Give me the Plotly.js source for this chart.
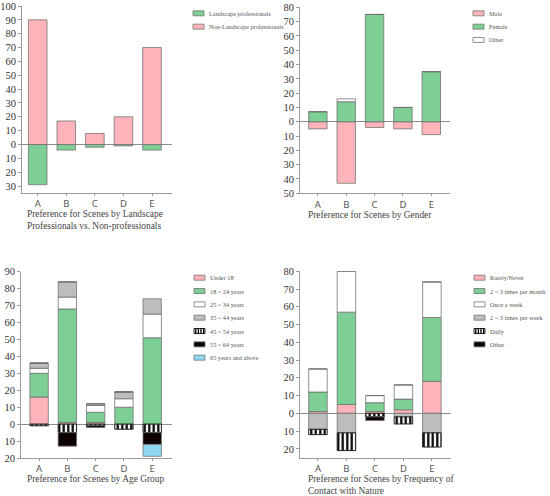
<!DOCTYPE html>
<html>
<head>
<meta charset="utf-8">
<script src="https://cdn.plot.ly/plotly-3.0.1.min.js"></script>
<style>html,body{margin:0;padding:0;background:#fff;}#chart{width:550px;height:496px;}</style>
</head>
<body>
<div id="chart"></div>
<script>
// ---------------- DATA ----------------
const scenes = ['A', 'B', 'C', 'D', 'E'];

// Panel 1: professionals (drawn below zero) vs non-professionals (above zero)
const landscapePros = [29, 4, 2, 1, 4];
const nonLandscapePros = [90, 17, 8, 20, 70];
const p1Ticks = [-30, -20, -10, 0, 10, 20, 30, 40, 50, 60, 70, 80, 90, 100];
const p1TickText = ['30', '20', '10', '0', '10', '20', '30', '40', '50', '60', '70', '80', '90', '100'];

// Panel 2: gender (male below zero)
const male = [5, 43, 4, 5, 9];
const female = [7, 14, 75, 10, 35];
const otherGender = [0, 2, 0, 0, 0];
const p2Ticks = [-50, -40, -30, -20, -10, 0, 10, 20, 30, 40, 50, 60, 70, 80];
const p2TickText = ['50', '40', '30', '20', '10', '0', '10', '20', '30', '40', '50', '60', '70', '80'];

// Panel 3: age groups (45+ below zero)
const under18 = [16, 1, 1, 0, 0];
const age18to24 = [14, 67, 6, 10, 51];
const age25to34 = [3, 7, 4, 5, 14];
const age35to44 = [3, 9, 1, 4, 9];
const age45to54 = [1, 5, 1, 3, 5];
const age55to64 = [0, 8, 1, 0, 7];
const age65plus = [0, 0, 0, 0, 7];
const p3Ticks = [-20, -10, 0, 10, 20, 30, 40, 50, 60, 70, 80, 90];
const p3TickText = ['20', '10', '0', '10', '20', '30', '40', '50', '60', '70', '80', '90'];

// Panel 4: frequency of contact with nature (weekly+ below zero)
const rarelyNever = [1, 5, 1, 2, 18];
const perMonth = [11, 52, 5, 6, 36];
const onceWeek = [13, 23, 4, 8, 20];
const perWeek = [9, 11, 0, 2, 11];
const daily = [3, 10, 2, 4, 8];
const otherFreq = [0, 0, 2, 0, 0];
const p4Ticks = [-20, -10, 0, 10, 20, 30, 40, 50, 60, 70, 80];
const p4TickText = ['20', '10', '0', '10', '20', '30', '40', '50', '60', '70', '80'];

const titles = [
  'Preference for Scenes by Landscape<br>Professionals vs. Non-professionals',
  'Preference for Scenes by Gender',
  'Preference for Scenes by Age Group',
  'Preference for Scenes by Frequency of<br>Contact with Nature'
];

// ---------------- STYLE ----------------
const GREEN = '#7dcf96', PINK = '#ffb3ba', WHITE = '#ffffff', GRAY = '#bdbdbd',
      BLACK = '#0d0303', BLUE = '#8ed8f2';
const OUTLINE = 'rgba(110,110,110,0.75)';
const HATCH = {shape: '|', fgcolor: '#000000', bgcolor: '#ffffff', size: 4.5, solidity: 0.5, fillmode: 'replace'};
const SERIF = 'Liberation Serif, Times New Roman, serif';
const SANS = 'Noto Sans, Open Sans, sans-serif';

const neg = a => a.map(v => -v);

function bar(name, y, color, ax, opts) {
  const t = {
    type: 'bar', name: name, x: scenes, y: y, xaxis: 'x' + ax, yaxis: 'y' + ax,
    marker: {color: color, line: {color: OUTLINE, width: 1}}, showlegend: false,
    hovertemplate: name + ' %{x}: %{y}<extra></extra>'
  };
  if (opts && opts.hatch) {
    t.marker.pattern = HATCH;
    t.marker.line = {color: '#222', width: 1};
  }
  return t;
}

const data = [
  bar('Landscape professionals', neg(landscapePros), GREEN, ''),
  bar('Non-Landscape professionals', nonLandscapePros, PINK, ''),

  bar('Male', neg(male), PINK, '2'),
  bar('Female', female, GREEN, '2'),
  bar('Other', otherGender, WHITE, '2'),

  bar('Under 18', under18, PINK, '3'),
  bar('18 ~ 24 years', age18to24, GREEN, '3'),
  bar('25 ~ 34 years', age25to34, WHITE, '3'),
  bar('35 ~ 44 years', age35to44, GRAY, '3'),
  bar('45 ~ 54 years', neg(age45to54), WHITE, '3', {hatch: true}),
  bar('55 ~ 64 years', neg(age55to64), BLACK, '3'),
  bar('65 years and above', neg(age65plus), BLUE, '3'),

  bar('Rarely/Never', rarelyNever, PINK, '4'),
  bar('2 ~ 3 times per month', perMonth, GREEN, '4'),
  bar('Once a week', onceWeek, WHITE, '4'),
  bar('2 ~ 3 times per week', neg(perWeek), GRAY, '4'),
  bar('Daily', neg(daily), WHITE, '4', {hatch: true}),
  bar('Other', neg(otherFreq), BLACK, '4')
];

// ---------------- LAYOUT ----------------
const W = 550, H = 496;
const fx = x => x / W;
const fy = y => 1 - y / H;

function yax(top, bottom, range, tv, tt, anchor) {
  return {
    domain: [fy(bottom), fy(top)], range: range, tickvals: tv, ticktext: tt, anchor: anchor,
    showline: true, linecolor: '#9a9a9a', linewidth: 1, ticks: 'outside', ticklen: 3,
    tickcolor: '#9a9a9a', showgrid: false, zeroline: true, zerolinecolor: '#8c8c8c',
    zerolinewidth: 1, tickfont: {family: SERIF, size: 10.5, color: '#333'}, fixedrange: true
  };
}
function xax(left, right, anchor, range) {
  return {
    domain: [fx(left), fx(right)], type: 'category', range: range, anchor: anchor,
    showline: true, linecolor: '#9a9a9a', linewidth: 1, ticks: 'outside', ticklen: 2,
    tickcolor: '#9a9a9a', showgrid: false, zeroline: false,
    tickfont: {family: SANS, size: 9.5, color: '#555'}, fixedrange: true
  };
}

const layout = {
  width: W, height: H, margin: {l: 0, r: 0, t: 0, b: 0},
  paper_bgcolor: '#fff', plot_bgcolor: 'rgba(0,0,0,0)',
  barmode: 'relative', bargap: 0.35, showlegend: false,
  xaxis: xax(22, 172, 'y', [-0.55, 4.7]),
  yaxis: yax(6, 193, [-35, 100], p1Ticks, p1TickText, 'x'),
  xaxis2: xax(300, 450, 'y2', [-0.63, 4.66]),
  yaxis2: yax(7.3, 193.3, [-50, 80], p2Ticks, p2TickText, 'x2'),
  xaxis3: xax(21, 172, 'y3', [-0.64, 4.7]),
  yaxis3: yax(271.7, 458, [-20, 90], p3Ticks, p3TickText, 'x3'),
  xaxis4: xax(300, 451, 'y4', [-0.63, 4.67]),
  yaxis4: yax(271.3, 457.7, [-25, 80], p4Ticks, p4TickText, 'x4'),
  annotations: [], shapes: []
};

// axis titles (left-aligned text beneath each panel)
const titlePos = [[26, 208], [307, 209], [26, 473], [307, 473]];
titles.forEach((t, i) => {
  layout.annotations.push({
    text: t, xref: 'paper', yref: 'paper', x: fx(titlePos[i][0]), y: fy(titlePos[i][1]),
    xanchor: 'left', yanchor: 'top', align: 'left', showarrow: false, borderpad: 0,
    font: {family: SERIF, size: 9.4, color: '#444'}
  });
});

// legends (one per panel)
const legends = [
  {x: 193, y: 13.3, items: [['Landscape professionals', GREEN], ['Non-Landscape professionals', PINK]]},
  {x: 473, y: 13.3, items: [['Male', PINK], ['Female', GREEN], ['Other', WHITE]]},
  {x: 194, y: 277.7, items: [['Under 18', PINK], ['18 ~ 24 years', GREEN], ['25 ~ 34 years', WHITE],
    ['35 ~ 44 years', GRAY], ['45 ~ 54 years', 'hatch'], ['55 ~ 64 years', BLACK], ['65 years and above', BLUE]]},
  {x: 474, y: 277.7, items: [['Rarely/Never', PINK], ['2 ~ 3 times per month', GREEN], ['Once a week', WHITE],
    ['2 ~ 3 times per week', GRAY], ['Daily', 'hatch'], ['Other', BLACK]]}
];
const ROW = 13.33, SW = 11, SH = 5;
legends.forEach(lg => {
  lg.items.forEach((it, k) => {
    const cy = lg.y + k * ROW;
    const hatch = it[1] === 'hatch';
    layout.shapes.push({
      type: 'rect', xref: 'paper', yref: 'paper',
      x0: fx(lg.x), x1: fx(lg.x + SW), y0: fy(cy + SH / 2), y1: fy(cy - SH / 2),
      fillcolor: hatch ? '#fff' : it[1], line: {color: hatch ? '#222' : OUTLINE, width: 1}
    });
    if (hatch) {
      for (let s = 0; s < 4; s++) {
        const sx = lg.x + 1.8 + s * 2.6;
        layout.shapes.push({
          type: 'line', xref: 'paper', yref: 'paper',
          x0: fx(sx), x1: fx(sx), y0: fy(cy + SH / 2), y1: fy(cy - SH / 2),
          line: {color: '#000', width: 1.3}
        });
      }
    }
    layout.annotations.push({
      text: it[0], xref: 'paper', yref: 'paper', x: fx(lg.x + SW + 2.5), y: fy(cy),
      xanchor: 'left', yanchor: 'middle', showarrow: false,
      font: {family: SERIF, size: 6.3, color: '#555'}
    });
  });
});

Plotly.newPlot('chart', data, layout, {staticPlot: true, displayModeBar: false});
</script>
</body>
</html>
